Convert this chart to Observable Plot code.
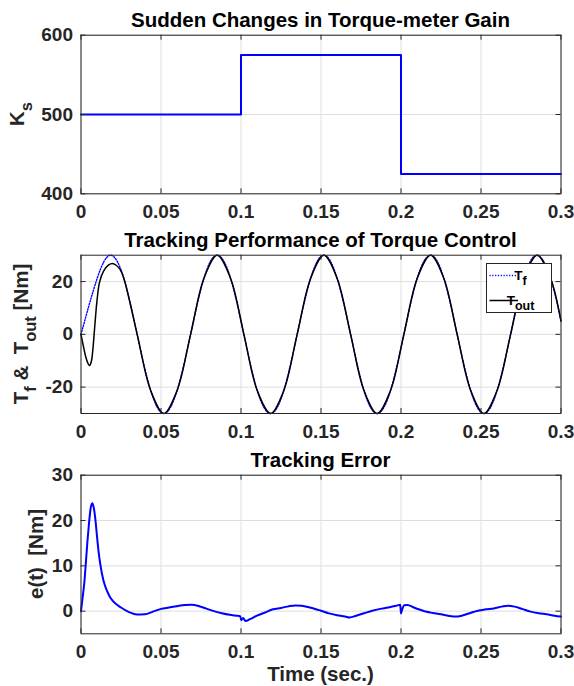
<!DOCTYPE html>
<html>
<head>
<meta charset="utf-8">
<script src="https://cdn.jsdelivr.net/npm/d3@7"></script>
<script src="https://cdn.jsdelivr.net/npm/@observablehq/plot@0.6"></script>
<style>
  html, body { margin: 0; padding: 0; background: #fff; }
  #wrap { width: 574px; height: 686px; overflow: hidden; }
  #wrap svg { display: block; }
</style>
</head>
<body>
<div id="wrap"></div>
<script>
// ---------- data ----------
const xTicks = [0, 0.05, 0.1, 0.15, 0.2, 0.25, 0.3];

const ksTime  = [0, 0.1, 0.2, 0.3];
const ksValue = [500, 575, 425, 425];
const ksTicks = [400, 500, 600];

const tfTime = [0, 0.0101, 0.0185, 0.0268, 0.0351, 0.0435, 0.0518, 0.0601, 0.0685, 0.0768,
  0.0851, 0.0935, 0.1018, 0.1101, 0.1185, 0.1268, 0.1351, 0.1435, 0.1518, 0.1601,
  0.1685, 0.1768, 0.1851, 0.1935, 0.2018, 0.2101, 0.2185, 0.2268, 0.2351, 0.2435,
  0.2518, 0.2601, 0.2685, 0.2768, 0.2851, 0.2935, 0.3];
const tfValue = [0, 21.2, 30, 21.2, 0, -21.2, -30, -21.2, 0, 21.2,
  30, 21.2, 0, -21.2, -30, -21.2, 0, 21.2, 30, 21.2,
  0, -21.2, -30, -21.2, 0, 21.2, 30, 21.2, 0, -21.2,
  -30, -21.2, 0, 21.2, 30, 21.2, 5.0];

const toutTime = [0, 0.0015, 0.003, 0.0045, 0.0054, 0.0065, 0.0073, 0.0082, 0.0091, 0.0100,
  0.0116, 0.0141, 0.0173, 0.0196, 0.0220, 0.0245, 0.0268, 0.0351, 0.0435, 0.0518,
  0.0601, 0.0685, 0.0768, 0.0851, 0.0935, 0.1018, 0.1101, 0.1185, 0.1268, 0.1351,
  0.1435, 0.1518, 0.1601, 0.1685, 0.1768, 0.1851, 0.1935, 0.2018, 0.2101, 0.2185,
  0.2268, 0.2351, 0.2435, 0.2518, 0.2601, 0.2685, 0.2768, 0.2851, 0.2935, 0.3];
const toutValue = [0, -4.5, -8.6, -11.2, -11.8, -10.2, -6.5, 0, 6.8, 12.8,
  19.8, 24.0, 26.3, 26.9, 26.2, 24.5, 21.2, 0, -21.2, -30,
  -21.2, 0, 21.2, 30, 21.2, 0, -21.2, -30, -21.2, 0,
  21.2, 30, 21.2, 0, -21.2, -30, -21.2, 0, 21.2, 30,
  21.2, 0, -21.2, -30, -21.2, 0, 21.2, 30, 21.2, 5.0];
const trqTicks = [-20, 0, 20];

const errTime = [0, 0.001, 0.002, 0.003, 0.004, 0.005, 0.006, 0.007, 0.008, 0.009,
  0.010, 0.011, 0.012, 0.014, 0.016, 0.018, 0.020, 0.025, 0.030, 0.035,
  0.040, 0.045, 0.050, 0.055, 0.060, 0.065, 0.069, 0.073, 0.078, 0.083,
  0.088, 0.093, 0.097, 0.0995, 0.1001, 0.1013, 0.1028, 0.106, 0.110, 0.115,
  0.120, 0.125, 0.130, 0.134, 0.138, 0.143, 0.148, 0.150, 0.155, 0.160,
  0.165, 0.168, 0.172, 0.177, 0.182, 0.187, 0.192, 0.197, 0.1995, 0.2,
  0.2005, 0.202, 0.204, 0.208, 0.212, 0.216, 0.220, 0.225, 0.230, 0.234,
  0.238, 0.243, 0.248, 0.253, 0.258, 0.263, 0.267, 0.271, 0.276, 0.281,
  0.286, 0.291, 0.296, 0.3];
const errValue = [0, 3.0, 6.0, 10.5, 15.3, 19.4, 22.6, 23.8, 22.8, 20.2,
  16.5, 13.1, 10.5, 6.8, 4.7, 3.2, 2.2, 0.8, -0.2, -0.75,
  -0.7, -0.1, 0.5, 0.8, 1.1, 1.35, 1.4, 1.2, 0.6, 0,
  -0.45, -0.8, -1.0, -1.1, -2.0, -1.5, -2.2, -1.7, -1.0, -0.3,
  0.4, 0.7, 1.1, 1.27, 1.2, 0.8, 0.3, 0.1, -0.5, -0.9,
  -1.2, -1.4, -1.0, -0.45, 0.1, 0.5, 0.8, 1.2, 1.4, -0.5,
  0.1, 1.3, 1.35, 0.8, 0.3, -0.15, -0.4, -0.7, -1.05, -1.2,
  -1.0, -0.45, 0.1, 0.4, 0.6, 1.0, 1.2, 1.0, 0.45, -0.1,
  -0.45, -0.7, -1.0, -1.2];
const errTicks = [0, 10, 20, 30];

const titles = ["Sudden Changes in Torque-meter Gain", "Tracking Performance of Torque Control", "Tracking Error"];
const xLabel = "Time (sec.)";

// ---------- helpers ----------
const rows = (ts, vs) => ts.map((t, i) => ({t, v: vs[i]}));
const FONT = '"Liberation Sans", Arial, Helvetica, sans-serif';
const AX = "#262626";
const GRID = "#dedede";
const BLUE = "#0000ff";
const W = 574, ML = 80.5, MR = 13.5;

function makePanel({height, marginTop, marginBottom, yDomain, yTicks, lines}) {
  const innerW = W - ML - MR, innerH = height - marginTop - marginBottom;
  return Plot.plot({
    width: W, height, marginLeft: ML, marginRight: MR, marginTop, marginBottom,
    style: {fontFamily: FONT, fontSize: "19px", fontWeight: "bold", color: AX, background: "#fff"},
    x: {domain: [0, 0.3]},
    y: {domain: yDomain},
    marks: [
      Plot.gridX(xTicks, {stroke: GRID, strokeOpacity: 1}),
      Plot.gridY(yTicks, {stroke: GRID, strokeOpacity: 1}),
      ...lines,
      Plot.tickX(xTicks, {stroke: AX, insetTop: innerH - 5}),
      Plot.tickX(xTicks, {stroke: AX, insetBottom: innerH - 5}),
      Plot.tickY(yTicks, {stroke: AX, insetRight: innerW - 5}),
      Plot.tickY(yTicks, {stroke: AX, insetLeft: innerW - 5}),
      Plot.frame({stroke: AX}),
      Plot.axisX(xTicks, {tickSize: 0, tickPadding: 10.5, label: null, tickFormat: d => String(d), fill: AX}),
      Plot.axisY(yTicks, {tickSize: 0, tickPadding: 8, label: null, tickFormat: d => String(d), fill: AX})
    ]
  });
}

function addTitle(svg, marginTop, text) {
  d3.select(svg).append("text")
    .attr("x", ML + (W - ML - MR) / 2).attr("y", marginTop - 8)
    .attr("text-anchor", "middle")
    .attr("fill", "#000")
    .style("font-family", FONT).style("font-size", "20.5px").style("font-weight", "bold")
    .text(text);
}

function addYLabel(svg, x, yc, parts) {
  const t = d3.select(svg).append("text")
    .attr("transform", `translate(${x},${yc}) rotate(-90)`)
    .attr("text-anchor", "middle")
    .attr("fill", AX)
    .attr("xml:space", "preserve")
    .style("white-space", "pre")
    .style("font-family", FONT).style("font-size", "20.5px").style("font-weight", "bold");
  let shifted = false;
  for (const [txt, sub] of parts) {
    const ts = t.append("tspan").text(txt);
    if (sub && !shifted) { ts.attr("dy", 8).style("font-size", "16.5px"); shifted = true; }
    else if (!sub && shifted) { ts.attr("dy", -8); shifted = false; }
    else if (sub) ts.style("font-size", "16.5px");
  }
}

const wrap = document.getElementById("wrap");

// ---------- panel 1 (page y 0..224) ----------
const P1 = {height: 224, marginTop: 34.7, marginBottom: 30.7};
const p1 = makePanel({
  ...P1, yDomain: [400, 600], yTicks: ksTicks,
  lines: [Plot.line(rows(ksTime, ksValue), {x: "t", y: "v", curve: "step-after", stroke: BLUE, strokeWidth: 2})]
});
addTitle(p1, P1.marginTop, titles[0]);
addYLabel(p1, 24, 114, [["K", false], ["s", true]]);
wrap.appendChild(p1);

// ---------- panel 2 (page y 224..448) ----------
const P2 = {height: 224, marginTop: 30.7, marginBottom: 35};
const p2 = makePanel({
  ...P2, yDomain: [-30, 30], yTicks: trqTicks,
  lines: [
    Plot.line(rows(tfTime, tfValue), {x: "t", y: "v", curve: "natural", stroke: BLUE, strokeWidth: 1.4, strokeDasharray: "1.2,1.6"}),
    Plot.line(rows(toutTime, toutValue), {x: "t", y: "v", curve: "catmull-rom", stroke: "#000", strokeWidth: 1.5})
  ]
});
addTitle(p2, P2.marginTop, titles[1]);
addYLabel(p2, 28, 110, [["T", false], ["f", true], [" &  T", false], ["out", true], [" [Nm]", false]]);
{
  const g = d3.select(p2).append("g")
    .style("font-family", FONT).style("font-weight", "bold").attr("fill", "#000");
  g.append("rect").attr("x", 486.5).attr("y", 39.5).attr("width", 65).attr("height", 49)
    .attr("fill", "#fff").attr("stroke", AX).attr("stroke-width", 1);
  g.append("line").attr("x1", 489.5).attr("x2", 517).attr("y1", 51.5).attr("y2", 51.5)
    .attr("stroke", BLUE).attr("stroke-width", 1.4).attr("stroke-dasharray", "1.2,1.6");
  g.append("line").attr("x1", 489.5).attr("x2", 518).attr("y1", 76.5).attr("y2", 76.5)
    .attr("stroke", "#000").attr("stroke-width", 1.5);
  const t1 = g.append("text").attr("x", 520.5).attr("y", 55.5).style("font-size", "13.5px");
  t1.append("tspan").text("T");
  t1.append("tspan").attr("dy", 5).style("font-size", "12.5px").text("f");
  const t2 = g.append("text").attr("x", 520.5).attr("y", 81).style("font-size", "13.5px");
  t2.append("tspan").text("T");
  t2.append("tspan").attr("dy", 5).style("font-size", "12.5px").text("out");
}
wrap.appendChild(p2);

// ---------- panel 3 (page y 448..686) ----------
const P3 = {height: 238, marginTop: 26.7, marginBottom: 52.7};
const p3 = makePanel({
  ...P3, yDomain: [-5, 30], yTicks: errTicks,
  lines: [Plot.line(rows(errTime, errValue), {x: "t", y: "v", curve: "monotone-x", stroke: BLUE, strokeWidth: 2})]
});
addTitle(p3, P3.marginTop, titles[2]);
addYLabel(p3, 43, 106, [["e(t)  [Nm]", false]]);
d3.select(p3).append("text")
  .attr("x", ML + (W - ML - MR) / 2).attr("y", 233)
  .attr("text-anchor", "middle").attr("fill", AX)
  .style("font-family", FONT).style("font-size", "20.5px").style("font-weight", "bold")
  .text(xLabel);
wrap.appendChild(p3);
</script>
</body>
</html>
